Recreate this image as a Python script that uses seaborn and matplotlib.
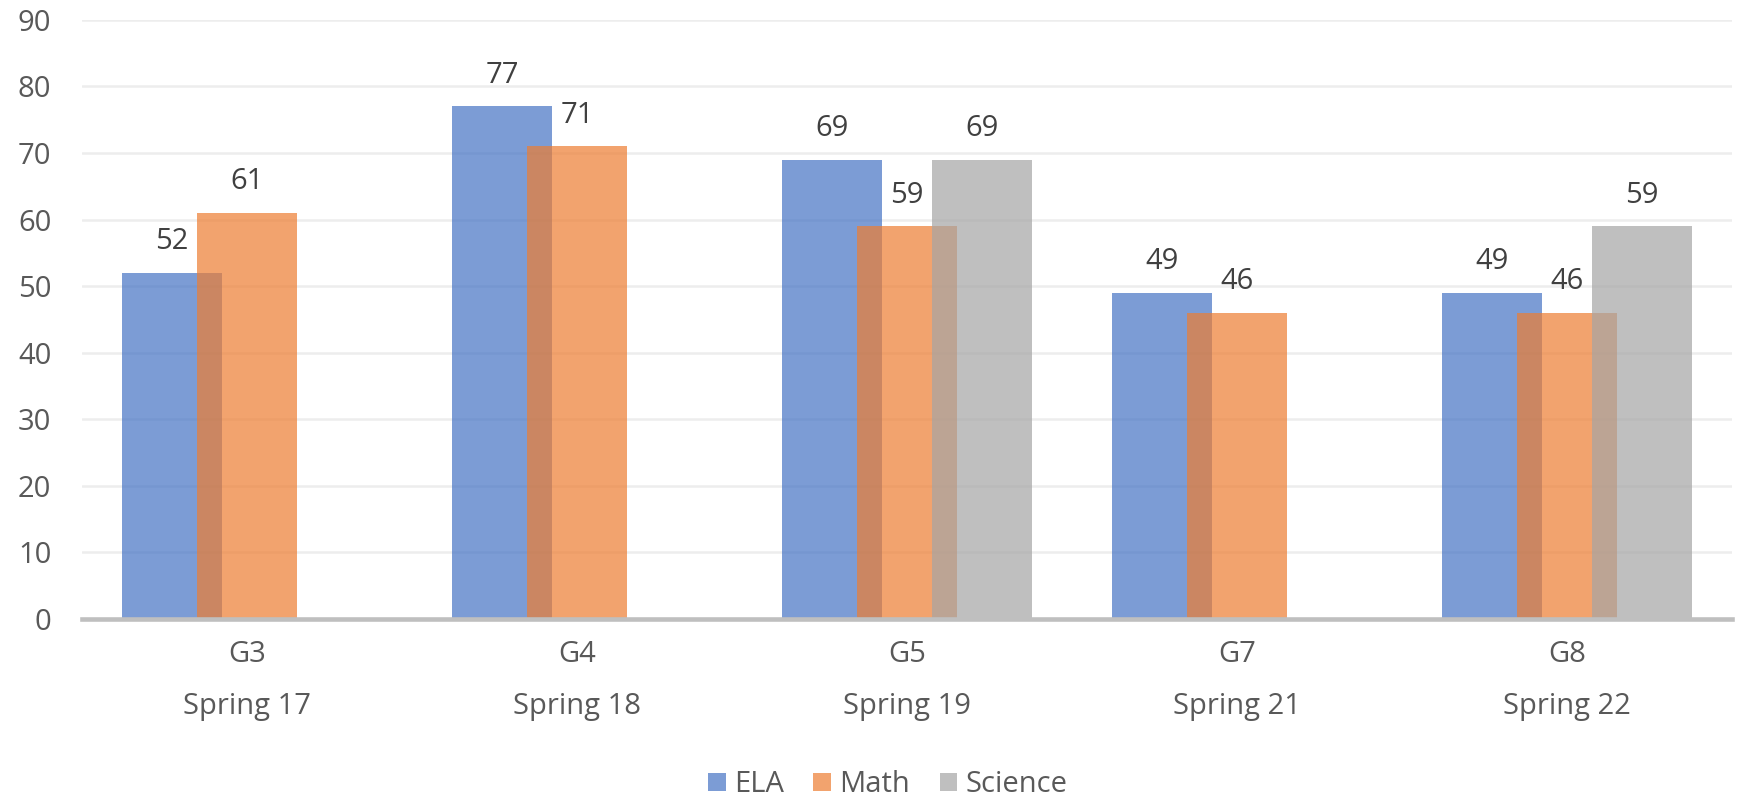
import numpy as np
import pandas as pd
import matplotlib.pyplot as plt
import seaborn as sns

# data
grades = ['G3', 'G4', 'G5', 'G7', 'G8']
terms = ['Spring 17', 'Spring 18', 'Spring 19', 'Spring 21', 'Spring 22']
ela = [52, 77, 69, 49, 49]
math = [61, 71, 59, 46, 46]
science = [np.nan, np.nan, 69, np.nan, 59]
subjects = ['ELA', 'Math', 'Science']

cats = [f'{g}\n{t}' for g, t in zip(grades, terms)]
df = pd.DataFrame({
    'cat': cats * 3,
    'subject': np.repeat(subjects, len(cats)),
    'score': ela + math + science,
})

sns.set_style('white')
plt.rcParams['font.family'] = ['Open Sans', 'DejaVu Sans']

palette = {'ELA': '#4472C4', 'Math': '#ED7D31', 'Science': '#A5A5A5'}

fig = plt.figure(figsize=(17.41, 7.96), dpi=100)
ax = fig.add_axes([0.047, 0.2224, 0.948, 0.7526])

step = 0.227   # distance between bar centres inside a group
bar_w = 0.303  # Excel-style overlapping bars
sns.barplot(data=df, x='cat', y='score', hue='subject', order=cats,
            hue_order=subjects, palette=palette, alpha=0.7,
            width=3 * step, dodge=True, linewidth=0, errorbar=None,
            saturation=1, ax=ax)

# widen bars so neighbours overlap
for p in ax.patches:
    if p.get_width() > 0:
        c = p.get_x() + p.get_width() / 2
        p.set_width(bar_w)
        p.set_x(c - bar_w / 2)

for cont in ax.containers:
    ax.bar_label(cont, fmt='%.0f', padding=12, fontsize=21, color='#404040')

ax.set_ylim(0, 90)
ax.set_yticks(range(0, 91, 10))
ax.set_xlim(-0.5, len(cats) - 0.5)
ax.set_xlabel('')
ax.set_ylabel('')
ax.grid(axis='y', color='#EDEDED', linewidth=1.8)
ax.set_axisbelow(True)
for s in ['top', 'right', 'left']:
    ax.spines[s].set_visible(False)
ax.spines['bottom'].set_color('#BFBFBF')
ax.spines['bottom'].set_linewidth(3.3)
ax.tick_params(axis='y', length=0, pad=22, labelsize=21, labelcolor='#595959')
ax.tick_params(axis='x', length=0, pad=15, labelsize=21, labelcolor='#595959')
for t in ax.get_xticklabels():
    t.set_linespacing(2.05)

handles, labels = ax.get_legend_handles_labels()
ax.legend_.remove()
fig.legend(handles, labels, loc='center', bbox_to_anchor=(0.51, 0.014), ncol=3,
           frameon=False, fontsize=21, labelcolor='#595959',
           handlelength=0.6, handleheight=0.6, handletextpad=0.3,
           columnspacing=1.0)

fig.savefig('out.png', dpi=100)
